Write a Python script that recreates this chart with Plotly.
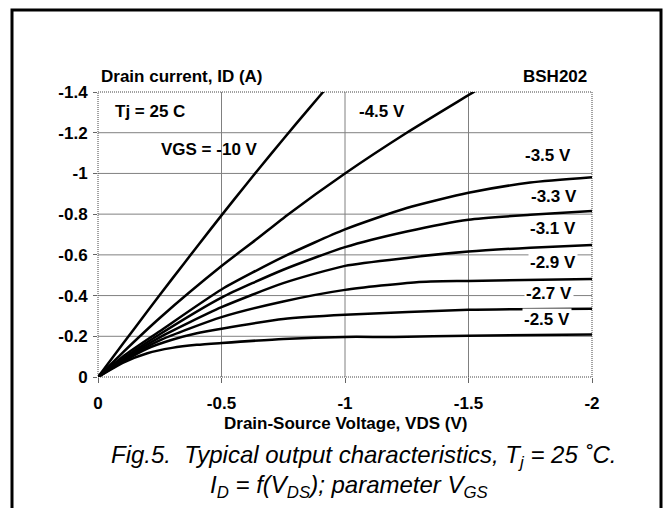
import plotly.graph_objects as go

# ---------------- data ----------------
vds_10 = [0, -0.1, -0.2, -0.3, -0.4, -0.5, -0.6, -0.7, -0.8, -0.9, -0.95]
id_10 = [0, -0.162, -0.323, -0.482, -0.639, -0.794, -0.946, -1.095, -1.241, -1.384, -1.455]

vds_45 = [0, -0.1, -0.25, -0.5, -0.64, -0.771, -1.0, -1.25, -1.534, -1.56]
id_45 = [0, -0.12, -0.29, -0.545, -0.675, -0.8, -1.0, -1.2, -1.41, -1.43]

vds_35 = [0, -0.1, -0.25, -0.5, -0.75, -1.0, -1.25, -1.5, -1.75, -2.0]
id_35 = [0, -0.1, -0.225, -0.43, -0.59, -0.725, -0.83, -0.905, -0.955, -0.981]

vds_33 = [0, -0.1, -0.25, -0.5, -0.75, -1.0, -1.25, -1.5, -1.75, -2.0]
id_33 = [0, -0.09, -0.21, -0.39, -0.527, -0.638, -0.715, -0.773, -0.797, -0.815]

vds_31 = [0, -0.1, -0.25, -0.5, -0.75, -1.0, -1.25, -1.5, -1.75, -2.0]
id_31 = [0, -0.085, -0.195, -0.343, -0.461, -0.546, -0.585, -0.616, -0.635, -0.649]

vds_29 = [0, -0.1, -0.25, -0.5, -0.75, -1.0, -1.29, -1.5, -2.0]
id_29 = [0, -0.08, -0.18, -0.294, -0.371, -0.428, -0.466, -0.472, -0.482]

vds_27 = [0, -0.1, -0.2, -0.3, -0.4, -0.5, -0.75, -1.0, -1.5, -2.0]
id_27 = [0, -0.075, -0.14, -0.183, -0.215, -0.237, -0.285, -0.306, -0.33, -0.335]

vds_25 = [0, -0.1, -0.2, -0.3, -0.4, -0.5, -0.75, -1.0, -1.2, -1.5, -2.0]
id_25 = [0, -0.07, -0.117, -0.143, -0.158, -0.167, -0.187, -0.197, -0.197, -0.203, -0.209]

x_ticks = [0, -0.5, -1, -1.5, -2]
x_tick_text = ["0", "-0.5", "-1", "-1.5", "-2"]
y_ticks = [0, -0.2, -0.4, -0.6, -0.8, -1.0, -1.2, -1.4]
y_tick_text = ["0", "-0.2", "-0.4", "-0.6", "-0.8", "-1", "-1.2", "-1.4"]
x_grid = [-0.5, -1, -1.5]
y_grid = [-0.2, -0.4, -0.6, -0.8, -1.0, -1.2]

curve_labels = ["-3.5 V", "-3.3 V", "-3.1 V", "-2.9 V", "-2.7 V", "-2.5 V"]

# ---------------- layout geometry ----------------
W, H = 670, 508
L, R, T, B = 98, 592, 92, 377  # plot-area pixel edges


def px(x):
    return (x - L) / (R - L)


def py(y):
    return (B - y) / (B - T)


FONT = "Liberation Sans, Arial, Helvetica, sans-serif"
BOLD = dict(family=FONT, size=17, color="black", weight="bold")

fig = go.Figure()
series = [(vds_10, id_10), (vds_45, id_45), (vds_35, id_35), (vds_33, id_33),
          (vds_31, id_31), (vds_29, id_29), (vds_27, id_27), (vds_25, id_25)]
for xs, ys in series:
    fig.add_trace(go.Scatter(x=xs, y=ys, mode="lines",
                             line=dict(color="black", width=2.5, shape="spline", smoothing=0.6),
                             hoverinfo="skip", showlegend=False))

shapes = []
for g in x_grid:
    shapes.append(dict(type="line", xref="x", yref="paper", x0=g, x1=g, y0=0, y1=1,
                       line=dict(color="#808080", width=1), layer="below"))
for g in y_grid:
    shapes.append(dict(type="line", xref="paper", yref="y", x0=0, x1=1, y0=g, y1=g,
                       line=dict(color="#808080", width=1), layer="below"))
# dotted plot border
shapes.append(dict(type="rect", xref="paper", yref="paper", x0=0, x1=1, y0=0, y1=1,
                   line=dict(color="#444", width=1, dash="1px,1px"), layer="below"))
# outer frame
shapes.append(dict(type="rect", xref="paper", yref="paper", x0=px(12), x1=px(661),
                   y0=py(530), y1=py(10), line=dict(color="black", width=3)))

ann = []


def add(text, x, y, xa="left", ya="middle", font=None, bg=None):
    d = dict(text=text, xref="paper", yref="paper", x=px(x), y=py(y), xanchor=xa,
             yanchor=ya, showarrow=False, font=font or BOLD)
    if bg:
        d["bgcolor"] = bg
        d["borderpad"] = 1
    ann.append(d)


add("Drain current, ID (A)", 99, 76)
add("BSH202", 589, 76, xa="right")
add("Tj = 25 C", 113, 111)
add("VGS = -10 V", 159, 149)
add("-4.5 V", 357, 111)
label_pos = [(573, 155), (579, 196), (578, 228), (577.5, 262), (574, 293), (572, 319)]
for txt, (lx, ly) in zip(curve_labels, label_pos):
    add(txt, lx, ly, xa="right", bg="white")
add("Drain-Source Voltage, VDS (V)", 345, 423, xa="center")
CAP = dict(family=FONT, size=24, color="black")
add("<i>Fig.5.\u00a0\u00a0Typical output characteristics, T<sub>j</sub> = 25 \u02daC.</i>",
    363, 456, xa="center", font=CAP)
add("<i>I<sub>D</sub> = f(V<sub>DS</sub>); parameter V<sub>GS</sub></i>",
    349, 487, xa="center", font=CAP)

fig.update_layout(
    width=W, height=H,
    margin=dict(l=L, r=W - R, t=T, b=H - B, pad=0),
    paper_bgcolor="white", plot_bgcolor="white",
    shapes=shapes, annotations=ann,
    xaxis=dict(range=[0, -2], tickvals=x_ticks, ticktext=x_tick_text, showgrid=False,
               zeroline=False, showline=False, ticks="outside", ticklen=5, tickcolor="#666",
               tickfont=BOLD, ticklabelstandoff=6, fixedrange=True),
    yaxis=dict(range=[0, -1.4], tickvals=y_ticks, ticktext=y_tick_text, showgrid=False,
               zeroline=False, showline=False, ticks="outside", ticklen=4, tickcolor="#666",
               tickfont=BOLD, ticklabelstandoff=2, fixedrange=True),
)

fig.write_html("out.html", config={"displayModeBar": False},
               post_script="document.body.style.margin='0';document.body.style.overflow='hidden';")
